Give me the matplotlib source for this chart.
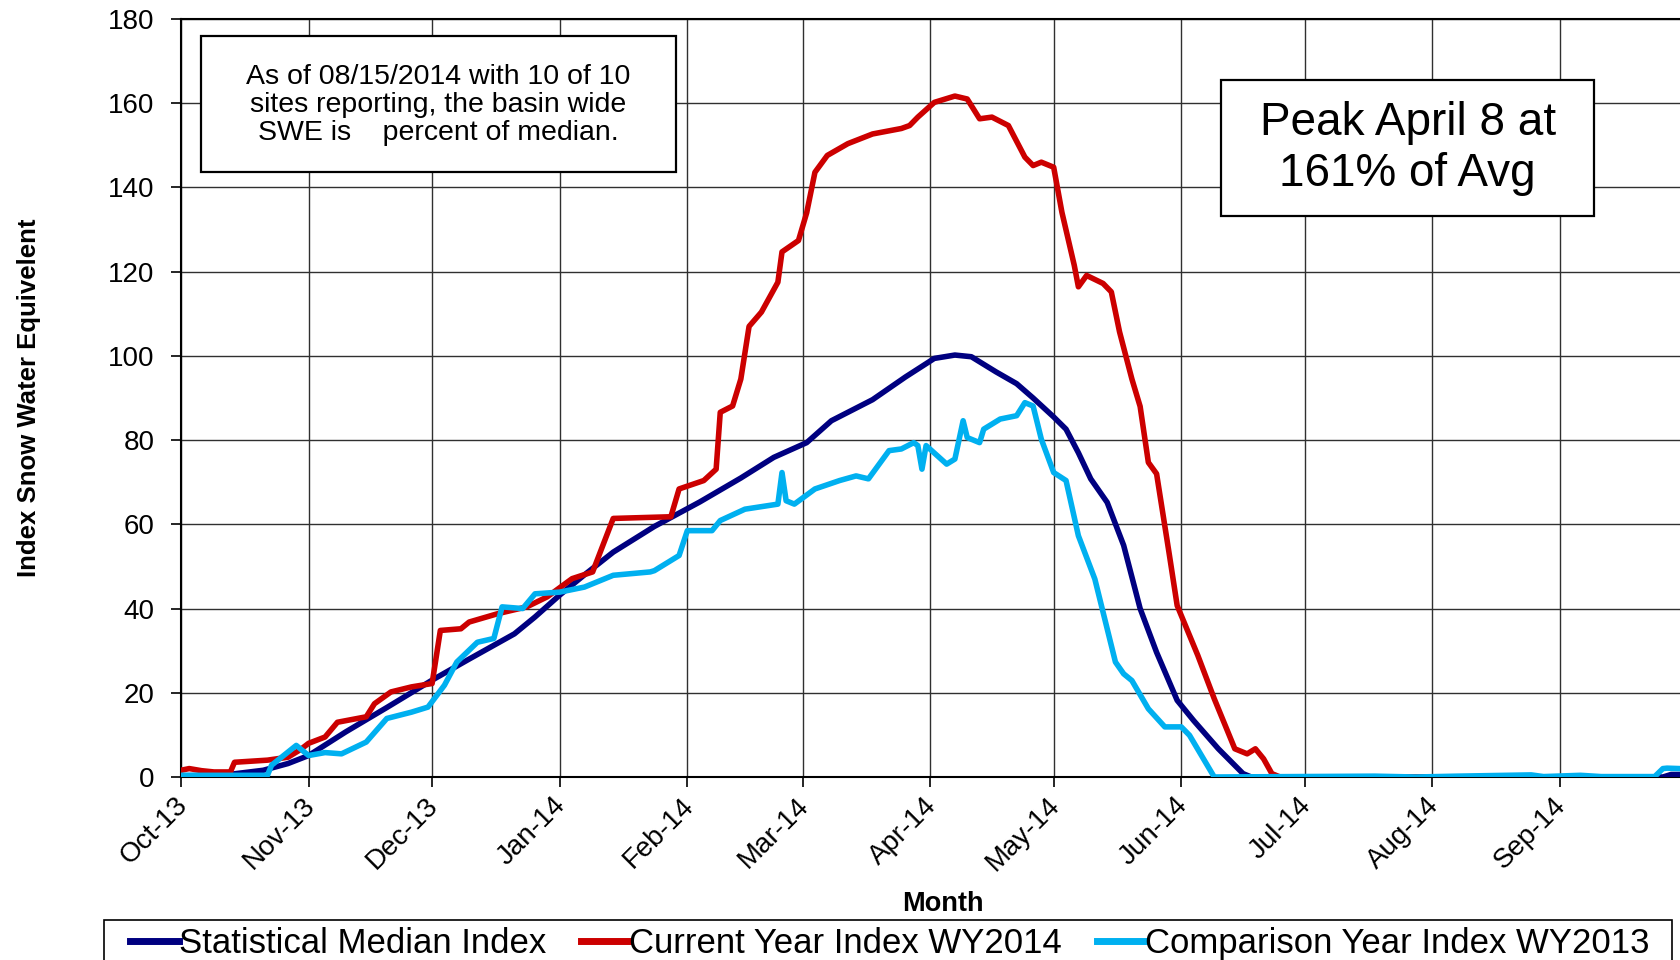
import numpy as np
import pandas as pd
import matplotlib
matplotlib.use('Agg')
import matplotlib.pyplot as plt
import matplotlib.dates as mdates
import matplotlib.transforms as mtransforms
from matplotlib.patches import Rectangle

plt.rcParams['font.family'] = ['Liberation Sans', 'DejaVu Sans']

# water year starts Oct 1 2013, x values are day of water year
start = pd.Timestamp('2013-10-01')

median_day = [0, 10, 20, 26, 31, 40, 50, 61, 70, 81, 86, 92, 98, 105, 115, 126,
              136, 144, 152, 158, 168, 176, 183, 188, 192, 198, 203, 207, 212,
              215, 218, 221, 225, 229, 233, 237, 242, 246, 252, 258, 260, 360,
              362, 364]
median_swe = [0.3, 0.4, 1.6, 3.2, 5.1, 10.7, 16.5, 23, 28, 34, 38, 43.2, 48,
              53.4, 59.5, 65.3, 71, 75.9, 79.4, 84.6, 89.6, 95, 99.4, 100.2,
              99.8, 96.2, 93.4, 90, 85.5, 82.6, 77, 70.8, 65.2, 55, 40, 29.6,
              18.2, 13.4, 6.7, 0.8, 0, 0, 0.6, 0.6]

wy2014_day = [0, 2, 5, 8, 12, 13, 21, 26, 29, 31, 35, 38, 45, 47, 51, 56, 61,
              63, 68, 70, 77, 84, 89, 95, 100, 105, 119, 121, 127, 130, 131,
              134, 136, 138, 141, 145, 146, 150, 152, 154, 157, 162, 168, 175,
              177, 179, 183, 188, 191, 194, 197, 201, 205, 207, 209, 212, 214,
              217, 218, 220, 224, 226, 228, 231, 233, 235, 237, 240, 242, 247,
              251, 256, 259, 261, 263, 265, 267, 318]
wy2014_swe = [1.6, 2.0, 1.5, 1.2, 1.2, 3.5, 4.0, 4.7, 6.5, 8, 9.5, 13, 14.3,
              17.4, 20.2, 21.4, 22.2, 34.8, 35.2, 36.8, 38.8, 40.4, 42.8, 47.1,
              48.7, 61.4, 61.8, 68.4, 70.4, 73.1, 86.6, 88.1, 94.5, 107, 110.4,
              117.5, 124.7, 127.4, 134, 143.6, 147.6, 150.4, 152.7, 154, 154.7,
              156.7, 160.2, 161.7, 161, 156.3, 156.7, 154.7, 147.2, 145.2, 146,
              144.8, 134.1, 121.5, 116.4, 119.1, 117.2, 115.2, 105.7, 94.5, 88,
              74.7, 72, 53.4, 40.7, 28.9, 18.6, 6.7, 5.5, 6.7, 4.3, 0.8, 0, 0]

wy2013_day = [0, 21, 22, 28, 31, 35, 39, 45, 50, 56, 60, 64, 67, 72, 76, 78,
              83, 86, 92, 98, 105, 114, 115, 121, 123, 129, 131, 137, 145, 146,
              147, 149, 154, 160, 164, 167, 172, 175, 178, 179, 180, 181, 186,
              188, 190, 191, 194, 195, 199, 203, 205, 207, 209, 212, 215, 218,
              222, 227, 229, 231, 235, 239, 243, 245, 251, 290, 300, 310, 328,
              331, 340, 345, 358, 360, 361, 364]
wy2013_swe = [0.4, 0.4, 2.8, 7.5, 5.1, 5.8, 5.5, 8.3, 13.9, 15.4, 16.6, 21.8,
              27.3, 32, 32.9, 40.4, 40, 43.5, 43.9, 45.1, 47.9, 48.7, 49, 52.6,
              58.5, 58.5, 60.9, 63.6, 64.8, 72.3, 65.6, 64.8, 68.4, 70.4, 71.5,
              70.8, 77.5, 77.9, 79.4, 78.7, 73.1, 78.7, 74.3, 75.5, 84.6, 80.6,
              79.4, 82.6, 85, 85.8, 88.9, 88.1, 80.2, 72.3, 70.4, 57.3, 47,
              27.3, 24.5, 22.9, 16.2, 11.9, 11.9, 9.9, 0, 0.2, 0, 0.2, 0.5, 0.1,
              0.4, 0.1, 0.1, 2.0, 2.1, 2.0]

labels = ['Statistical Median Index', 'Current Year Index WY2014',
          'Comparison Year Index WY2013']
colors = ['#000080', '#CC0000', '#00B0F0']

info_text = ('As of 08/15/2014 with 10 of 10\n'
             'sites reporting, the basin wide\n'
             'SWE is    percent of median.')
peak_text = 'Peak April 8 at\n161% of Avg'


def to_dates(days):
    return start + pd.to_timedelta(np.array(days), unit='D')


fig = plt.figure(figsize=(16.81, 9.6), dpi=100)
ax = fig.add_axes([181/1681, 183/960, 1502.5/1681, 758/960])

lw = 4.0
l1, = ax.plot(to_dates(median_day), median_swe, color=colors[0], lw=lw,
              solid_joinstyle='round', zorder=3)
l2, = ax.plot(to_dates(wy2014_day), wy2014_swe, color=colors[1], lw=lw,
              solid_joinstyle='round', zorder=3)
l3, = ax.plot(to_dates(wy2013_day), wy2013_swe, color=colors[2], lw=lw,
              solid_joinstyle='round', zorder=3)

ax.set_xlim(start, pd.Timestamp('2014-10-01'))
ax.set_ylim(0, 180)
ax.set_yticks(np.arange(0, 181, 20))
ax.set_xticks(pd.date_range('2013-10-01', '2014-09-01', freq='MS'))
ax.xaxis.set_major_formatter(mdates.DateFormatter('%b-%y'))

ax.set_axisbelow(True)
ax.grid(True, color='#303030', lw=1.0)
for s in ax.spines.values():
    s.set_color('black')
    s.set_linewidth(1.5)

ax.tick_params(axis='y', direction='out', length=7, width=1.2, pad=12,
               labelsize=20)
ax.tick_params(axis='x', direction='out', length=7, width=1.2, pad=4,
               labelsize=20)
shift = mtransforms.ScaledTranslation(-5/72, 0, fig.dpi_scale_trans)
for lbl in ax.get_xticklabels():
    lbl.set_rotation(45)
    lbl.set_ha('right')
    lbl.set_va('top')
    lbl.set_rotation_mode('anchor')
    lbl.set_transform(lbl.get_transform() + shift)

ax.set_ylabel('Index Snow Water Equivelent', fontsize=18.5, fontweight='bold')
ax.yaxis.set_label_coords(-0.093, 0.5)
ax.set_xlabel('Month', fontsize=19.5, fontweight='bold')
ax.xaxis.set_label_coords(0.507, -0.151)

# info box
ax.add_patch(Rectangle((0.0133, 0.798), 0.3162, 0.1796, transform=ax.transAxes,
                       facecolor='white', edgecolor='black', lw=1.6, zorder=5))
ax.text(0.171, 0.886, info_text, transform=ax.transAxes, ha='center',
        va='center', fontsize=20.5, linespacing=1.1, zorder=6)

# peak box
ax.add_patch(Rectangle((0.6925, 0.740), 0.2479, 0.1795, transform=ax.transAxes,
                       facecolor='white', edgecolor='black', lw=1.6, zorder=5))
ax.text(0.8165, 0.829, peak_text, transform=ax.transAxes, ha='center',
        va='center', fontsize=33, linespacing=1.2, zorder=6)

# legend along the bottom
leg = fig.legend([l1, l2, l3], labels, loc='upper left',
                 bbox_to_anchor=(130/1681, 1 - 927/960), ncol=3,
                 frameon=False, fontsize=25, handlelength=1.4,
                 handletextpad=0.0, columnspacing=1.0, borderpad=0,
                 borderaxespad=0)
for ln in leg.get_lines():
    ln.set_linewidth(5)
fig.add_artist(Rectangle((104/1681, -0.02), (1672-104)/1681, 40/960 + 0.02,
                         transform=fig.transFigure, fill=False,
                         edgecolor='black', lw=1.2))

fig.savefig('out.png', dpi=100, facecolor='white')
